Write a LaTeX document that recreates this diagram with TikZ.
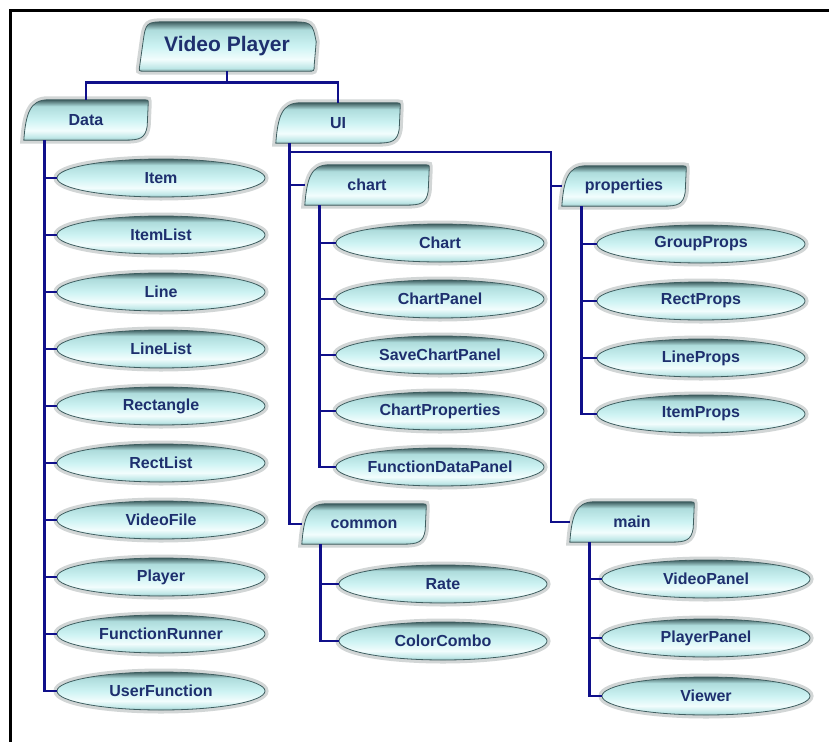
\documentclass[tikz,border=0pt]{standalone}
\usepackage{fontspec}
\setmainfont{Liberation Sans}
\usetikzlibrary{shapes.geometric,calc,backgrounds}

\pgfdeclarelayer{paper}
\pgfsetlayers{paper,background,main}

\definecolor{navy}{HTML}{10108A}
\definecolor{ink}{HTML}{1E2F6E}
\definecolor{rimtop}{HTML}{3F5E60}
\definecolor{cytop}{HTML}{AEDCDC}
\definecolor{cymid}{HTML}{CDF3F3}
\definecolor{cyband}{HTML}{F2FDFD}
\definecolor{cylow}{HTML}{BCE6E6}
\definecolor{rimlow}{HTML}{7F9FA0}
\definecolor{halo}{HTML}{D2D6D6}

% glassy cyan pill: dark rim on top, pale band low down
\pgfdeclareverticalshading{glassy}{100bp}{color(0bp)=(rimlow); color(25bp)=(rimlow); color(28bp)=(cylow); color(37bp)=(cyband); color(50bp)=(cymid); color(67bp)=(cytop); color(75bp)=(rimtop); color(100bp)=(rimtop)}

\tikzset{
  lbl/.style={text=ink, font=\fontsize{16}{18}\selectfont\bfseries},
  cls/.style={lbl, ellipse, minimum width=208pt, minimum height=38pt, inner sep=0pt,
    shade, shading=glassy, draw=rimtop, line width=0.8pt,
    preaction={draw=halo, line width=7pt}},
  pkg/.style={lbl, minimum width=124pt, minimum height=40pt, inner sep=0pt},
  pkgshape/.style={shade, shading=glassy, draw=rimtop, line width=0.8pt,
    preaction={draw=halo, line width=7pt}},
  conn/.style={draw=navy, line width=2.8pt},
}

% package outline: rounded top-left and bottom-right corners
\newcommand\leafpath[1]{%
  \path[pkgshape] (#1.south west)
    .. controls ($(#1.south west)+(2,-26)$) and ($(#1.north west)+(6,0)$) .. ($(#1.north west)+(24,0)$)
    -- ($(#1.north east)+(-3,0)$)
    .. controls (#1.north east) .. ($(#1.north east)+(0,4)$)
    -- ($(#1.south east)+(-1,-14)$)
    .. controls ($(#1.south east)+(-3,-2)$) and ($(#1.south east)+(-8,0)$) .. ($(#1.south east)+(-24,0)$)
    -- cycle;}

% root package outline: both top corners rounded
\newcommand\tabpath[1]{%
  \path[pkgshape] ($(#1.south west)+(6,0)$)
    .. controls ($(#1.south west)+(1,0)$) .. ($(#1.south west)+(2,-6)$)
    -- ($(#1.north west)+(5,22)$)
    .. controls ($(#1.north west)+(8,0)$) .. ($(#1.north west)+(30,0)$)
    -- ($(#1.north east)+(-30,0)$)
    .. controls ($(#1.north east)+(-4,0)$) .. ($(#1.north east)+(0,20)$)
    -- ($(#1.south east)+(-2,-6)$)
    .. controls ($(#1.south east)+(-2,0)$) .. ($(#1.south east)+(-8,0)$)
    -- cycle;}

\begin{document}
\begin{tikzpicture}[x=1pt, y=-1pt]
\useasboundingbox (0,0) rectangle (829,742);
\begin{pgfonlayer}{paper}
  \fill[white] (0,0) rectangle (829,742);
\end{pgfonlayer}

% frame
\draw[line width=3pt] (829,10) -- (10,10) -- (10,742);

% packages
\node[pkg, font=\fontsize{21}{24}\selectfont\bfseries, minimum width=178pt, minimum height=49pt] (vp) at (227,46.5) {Video Player};
\node[pkg] (data) at (86,120) {Data};
\node[pkg] (ui) at (338,123) {UI};
\node[pkg] (chart) at (367,185) {chart};
\node[pkg] (props) at (624,186) {properties};
\node[pkg] (common) at (364,524) {common};
\node[pkg] (main) at (632,522) {main};

% Data classes
\node[cls] (item)     at (161,178) {Item};
\node[cls] (itemlist) at (161,235) {ItemList};
\node[cls] (line)     at (161,292) {Line};
\node[cls] (linelist) at (161,349) {LineList};
\node[cls] (rect)     at (161,406) {Rectangle};
\node[cls] (rectlist) at (161,463) {RectList};
\node[cls] (vfile)    at (161,520) {VideoFile};
\node[cls] (player)   at (161,577) {Player};
\node[cls] (frunner)  at (161,634) {FunctionRunner};
\node[cls] (ufunc)    at (161,691) {UserFunction};

% chart classes
\node[cls] (cchart)   at (440,243) {Chart};
\node[cls] (cpanel)   at (440,299) {ChartPanel};
\node[cls] (csave)    at (440,355) {SaveChartPanel};
\node[cls] (cprops)   at (440,411) {ChartProperties};
\node[cls] (cfdata)   at (440,467) {FunctionDataPanel};

% properties classes
\node[cls] (pgroup)   at (701,244) {GroupProps};
\node[cls] (prect)    at (701,301) {RectProps};
\node[cls] (pline)    at (701,358) {LineProps};
\node[cls] (pitem)    at (701,414) {ItemProps};

% common classes
\node[cls] (rate)     at (443,584) {Rate};
\node[cls] (ccombo)   at (443,641) {ColorCombo};

% main classes
\node[cls] (vpanel)   at (706,579) {VideoPanel};
\node[cls] (ppanel)   at (706,638) {PlayerPanel};
\node[cls] (viewer)   at (706,696) {Viewer};

% package outlines behind their labels
\begin{pgfonlayer}{background}
  \tabpath{vp}
  \foreach \p in {data,ui,chart,props,common,main} {\leafpath{\p}}
\end{pgfonlayer}

% connectors
\draw[conn] (vp.south) -- ++(0,11) -| (data.north);
\draw[conn] (vp.south) -- ++(0,11) -| (ui.north);

\foreach \c in {item,itemlist,line,linelist,rect,rectlist,vfile,player,frunner,ufunc}
  \draw[conn] ($(data.south west)+(21,0)$) |- (\c.west);

\coordinate (uiR) at (551,152);
\draw[conn] ($(ui.south west)+(14,0)$) |- (uiR) |- (main.west);
\draw[conn] (uiR) |- (props.west);
\draw[conn] ($(ui.south west)+(14,0)$) |- (chart.west);
\draw[conn] ($(ui.south west)+(14,0)$) |- (common.west);

\foreach \c in {cchart,cpanel,csave,cprops,cfdata}
  \draw[conn] ($(chart.south west)+(15,0)$) |- (\c.west);
\foreach \c in {pgroup,prect,pline,pitem}
  \draw[conn] ($(props.south west)+(20,0)$) |- (\c.west);
\foreach \c in {rate,ccombo}
  \draw[conn] ($(common.south west)+(19,0)$) |- (\c.west);
\foreach \c in {vpanel,ppanel,viewer}
  \draw[conn] ($(main.south west)+(20,0)$) |- (\c.west);
\end{tikzpicture}
\end{document}
